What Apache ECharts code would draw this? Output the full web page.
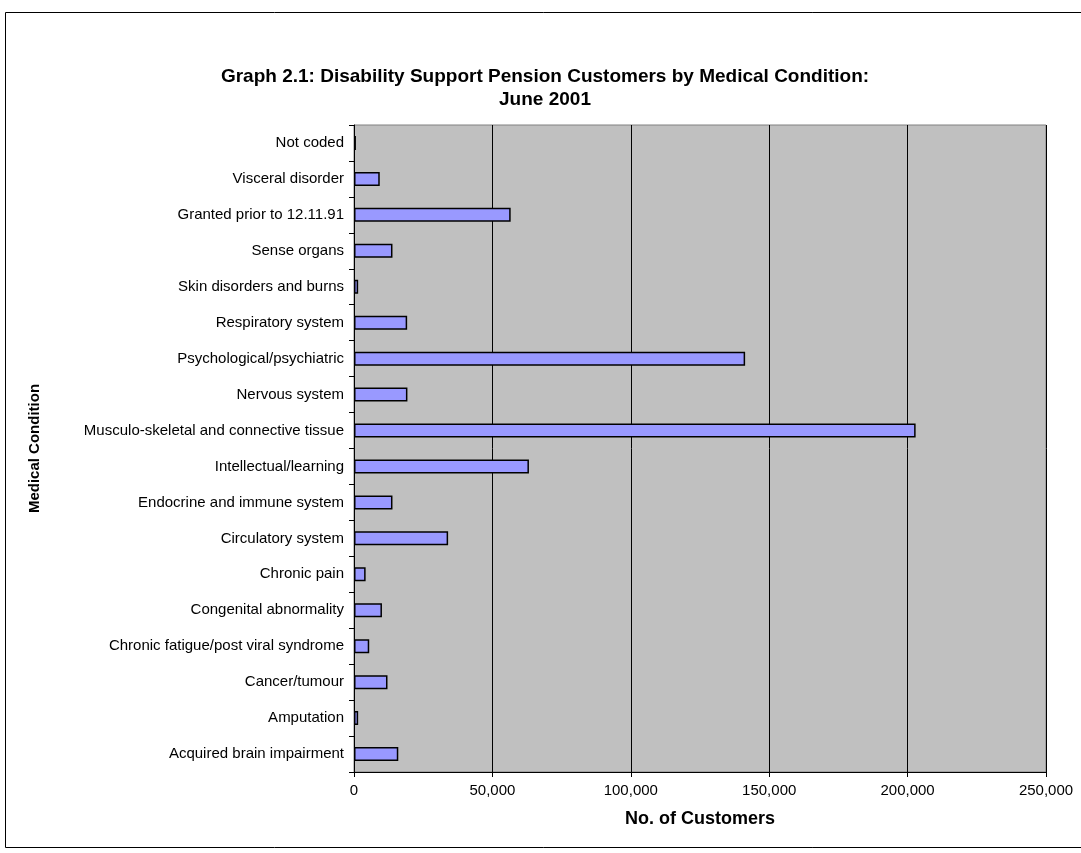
<!DOCTYPE html>
<html>
<head>
<meta charset="utf-8">
<title>Disability Support Pension Customers by Medical Condition</title>
<script src="https://cdn.jsdelivr.net/npm/echarts@6/dist/echarts.min.js"></script>
<style>
  html, body { margin: 0; padding: 0; background: #ffffff; }
  #chart { width: 1081px; height: 853px; }
</style>
</head>
<body>
<div id="chart"></div>
<script>
// Medical conditions, listed bottom to top as they appear on the axis
const conditions = [
  'Acquired brain impairment',
  'Amputation',
  'Cancer/tumour',
  'Chronic fatigue/post viral syndrome',
  'Congenital abnormality',
  'Chronic pain',
  'Circulatory system',
  'Endocrine and immune system',
  'Intellectual/learning',
  'Musculo-skeletal and connective tissue',
  'Nervous system',
  'Psychological/psychiatric',
  'Respiratory system',
  'Skin disorders and burns',
  'Sense organs',
  'Granted prior to 12.11.91',
  'Visceral disorder',
  'Not coded'
];

// Number of DSP customers per condition, June 2001
const customers = [
  16000, 1500, 12100, 5500, 10100, 4200, 34000, 13900, 63200,
  202900, 19300, 141300, 19200, 1500, 13900, 56600, 9300, 700
];

const xTicks = { min: 0, max: 250000, step: 50000 };

const chart = echarts.init(document.getElementById('chart'), null, { renderer: 'canvas' });

const fmt = v => v.toLocaleString('en-US');
const FONT = 'Liberation Sans, Arial, sans-serif';

chart.setOption({
  animation: false,
  textStyle: { fontFamily: FONT, color: '#000' },
  title: {
    text: 'Graph 2.1: Disability Support Pension Customers by Medical Condition:\nJune 2001',
    left: 540,
    top: 60,
    textAlign: 'center',
    textStyle: {
      fontFamily: FONT,
      fontSize: 19,
      fontWeight: 'bold',
      color: '#000',
      lineHeight: 23,
      align: 'center'
    }
  },
  graphic: [{
    type: 'rect',
    shape: { x: 5.5, y: 12.5, width: 1090, height: 835 },
    style: { fill: 'none', stroke: '#000', lineWidth: 1 },
    silent: true,
    z: 0
  }],
  grid: {
    left: 354,
    right: 35,
    top: 125,
    bottom: 81,
    show: true,
    backgroundColor: '#c0c0c0',
    borderColor: '#808080',
    borderWidth: 1
  },
  xAxis: {
    type: 'value',
    min: xTicks.min,
    max: xTicks.max,
    interval: xTicks.step,
    name: 'No. of Customers',
    nameLocation: 'middle',
    nameGap: 38,
    nameTextStyle: { fontFamily: FONT, fontSize: 18, fontWeight: 'bold', color: '#000' },
    axisLine: { show: true, lineStyle: { color: '#000', width: 1 } },
    axisTick: { show: true, length: 5, lineStyle: { color: '#000' } },
    axisLabel: { fontFamily: FONT, fontSize: 15, color: '#000', margin: 11, formatter: fmt },
    splitLine: { show: true, lineStyle: { color: '#000', width: 1 } }
  },
  yAxis: {
    type: 'category',
    data: conditions,
    name: 'Medical Condition',
    nameLocation: 'middle',
    nameRotate: 90,
    nameGap: 312,
    nameTextStyle: { fontFamily: FONT, fontSize: 15, fontWeight: 'bold', color: '#000' },
    axisLine: { show: true, lineStyle: { color: '#000', width: 1 } },
    axisTick: { show: true, length: 5, alignWithLabel: false, lineStyle: { color: '#000' } },
    axisLabel: { fontFamily: FONT, fontSize: 15, color: '#000', margin: 10, interval: 0 },
    splitLine: { show: false }
  },
  series: [{
    type: 'bar',
    data: customers,
    barWidth: 14,
    itemStyle: {
      color: '#9999ff',
      borderColor: '#000',
      borderWidth: 1.5
    }
  }]
});
</script>
</body>
</html>
